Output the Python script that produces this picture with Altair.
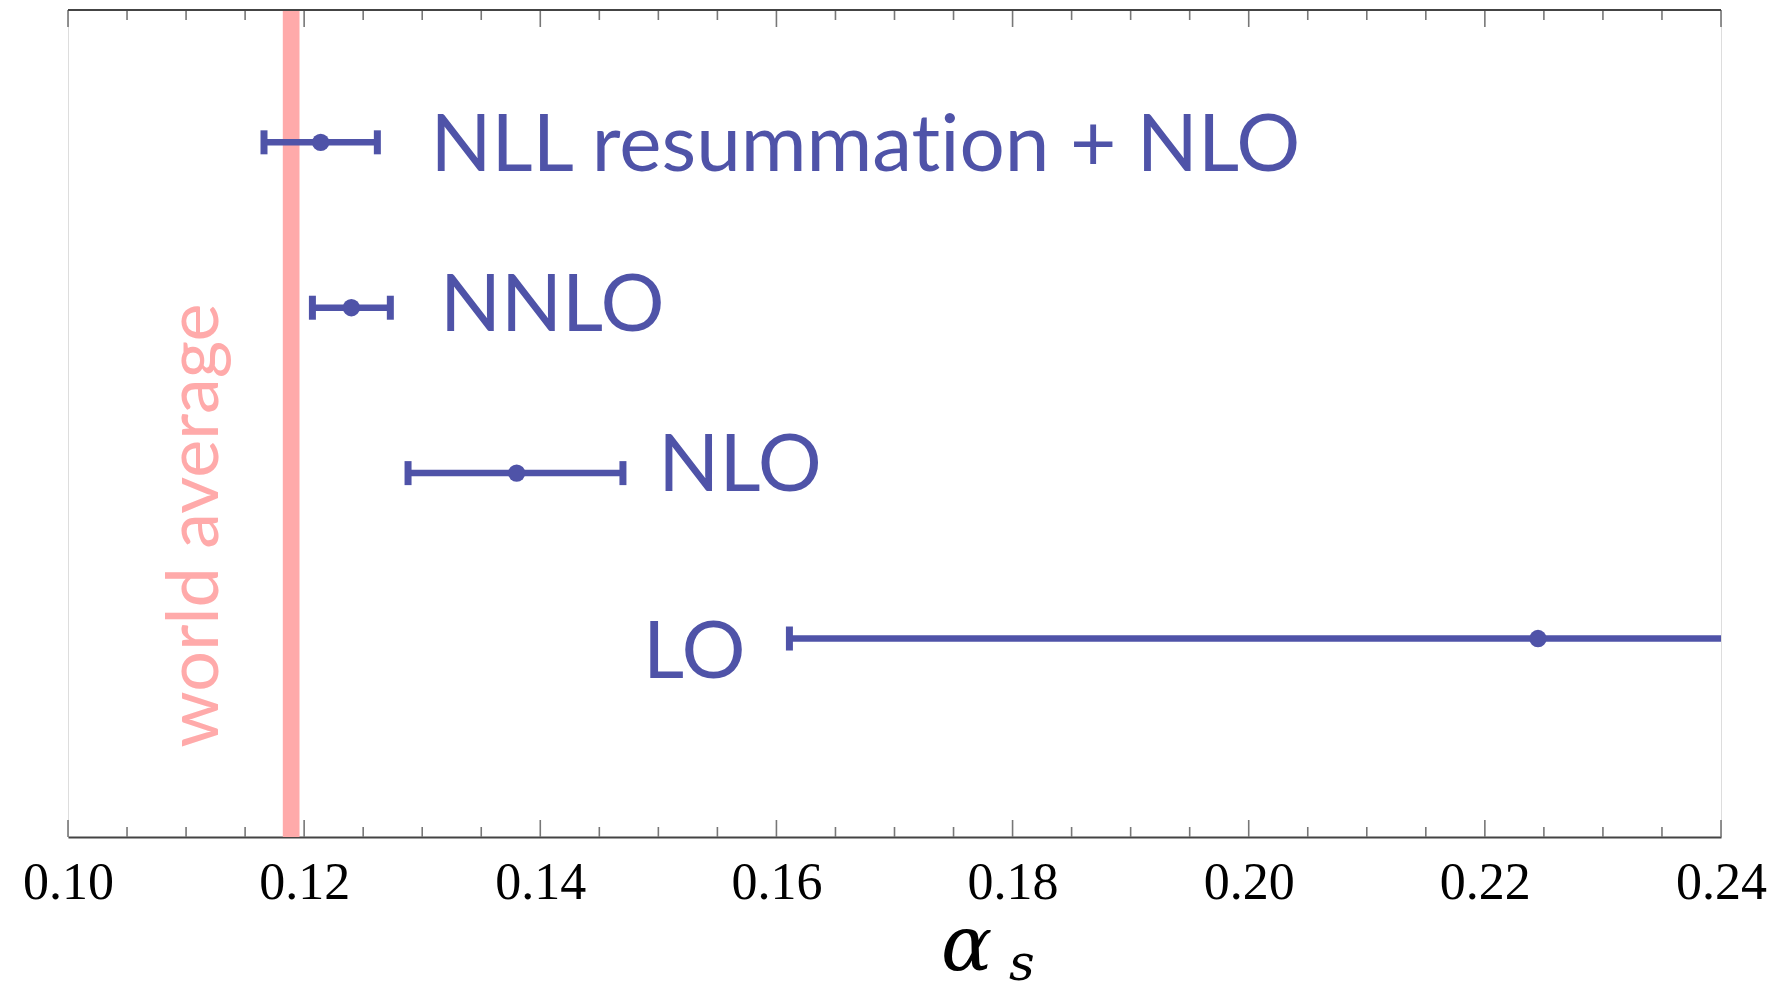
import altair as alt
import pandas as pd

# ---- data ----
labels = ["NLL resummation + NLO", "NNLO", "NLO", "LO"]
central = [0.1214, 0.1240, 0.1380, 0.2245]
lower = [0.1166, 0.1207, 0.1288, 0.1611]
upper = [0.1262, 0.1273, 0.1470, 0.2404]
y_pos = [4.2, 3.2, 2.2, 1.2]
label_x = [0.1307, 0.1315, 0.1500, 0.1487]
label_y = [4.196, 3.229, 2.264, 1.128]

world_avg = [0.1189]
world_label = ["world average"]
world_label_x = [0.1127]
world_label_y = [0.54]

major_ticks = [0.10, 0.12, 0.14, 0.16, 0.18, 0.20, 0.22, 0.24]
minor_ticks = [0.105, 0.11, 0.115, 0.125, 0.13, 0.135, 0.145, 0.15, 0.155,
               0.165, 0.17, 0.175, 0.185, 0.19, 0.195, 0.205, 0.21, 0.215,
               0.225, 0.23, 0.235]

BLUE = "#4F53A8"
PINK = "#FFAAAA"
W, H = 1653, 827

# zero-width non-joiner keeps the "ti" ligature from forming
display_labels = [s.replace("ti", "t\u200Ci") for s in labels]

df = pd.DataFrame({"label": display_labels, "c": central, "lo": lower, "hi": upper,
                   "y": y_pos, "lx": label_x, "ly": label_y})
caps = pd.DataFrame({"x": lower + upper, "y": y_pos + y_pos})
wa = pd.DataFrame({"x": world_avg})
wal = pd.DataFrame({"t": world_label, "x": world_label_x, "y": world_label_y})
maj = pd.DataFrame({"x": major_ticks})
mnr = pd.DataFrame({"x": minor_ticks})

xs = alt.Scale(domain=[0.10, 0.24], nice=False, zero=False)
ys = alt.Scale(domain=[0, 5], nice=False, zero=False)

xaxis = alt.Axis(values=major_ticks, format=".2f", labelFont="Liberation Serif",
                 labelFontSize=52, labelColor="#000", tickSize=0, labelPadding=20,
                 grid=False, domainColor="#444", domainWidth=2, labelFlush=False,
                 labelOverlap=False, title=None)


def X(field):
    return alt.X(field, scale=xs, axis=xaxis)


def Y(field):
    return alt.Y(field, scale=ys, axis=None)


# frame top line
top_line = alt.Chart(maj).mark_rule(color="#444", strokeWidth=2).encode(
    x=alt.value(0), x2=alt.value(W), y=alt.value(0))


def tick_layer(d, length):
    bot = alt.Chart(d).mark_rule(color="#777", strokeWidth=1.6).encode(
        x=X("x:Q"), y=alt.value(H), y2=alt.value(H - length))
    top = alt.Chart(d).mark_rule(color="#777", strokeWidth=1.6).encode(
        x=X("x:Q"), y=alt.value(0), y2=alt.value(length))
    return bot + top


ticks = tick_layer(maj, 17) + tick_layer(mnr, 10)

wa_line = alt.Chart(wa).mark_rule(color=PINK, strokeWidth=16.7).encode(x=X("x:Q"))

wa_text = alt.Chart(wal).mark_text(
    font="Lato", fontSize=72, color=PINK, angle=270, align="left",
    baseline="alphabetic").encode(x=X("x:Q"), y=Y("y:Q"), text="t:N")

bars = alt.Chart(df).mark_rule(color=BLUE, strokeWidth=6.5, clip=True).encode(
    x=X("lo:Q"), x2="hi:Q", y=Y("y:Q"))

cap_marks = alt.Chart(caps).mark_tick(color=BLUE, orient="vertical", size=24,
                                      thickness=7, opacity=1, clip=True).encode(
    x=X("x:Q"), y=Y("y:Q"))

dots = alt.Chart(df).mark_circle(color=BLUE, size=300, opacity=1).encode(
    x=X("c:Q"), y=Y("y:Q"))

texts = alt.Chart(df).mark_text(font="Lato", fontSize=80, color=BLUE,
                                align="left", baseline="alphabetic", dy=28).encode(
    x=X("lx:Q"), y=Y("ly:Q"), text="label:N")

alpha = alt.Chart(wa).mark_text(text="α", font="DejaVu Serif", fontStyle="italic",
                                fontSize=76, color="#000", align="left",
                                baseline="alphabetic").encode(
    x=alt.value(873), y=alt.value(960))
sub_s = alt.Chart(wa).mark_text(text="s", font="DejaVu Serif", fontStyle="italic",
                                fontSize=50, color="#000", align="left",
                                baseline="alphabetic").encode(
    x=alt.value(941), y=alt.value(970))

chart = alt.layer(
    wa_line, ticks, top_line, wa_text, bars, cap_marks, dots, texts, alpha, sub_s
).properties(
    width=W, height=H,
    autosize=alt.AutoSizeParams(type="none"),
    padding={"left": 68, "top": 10, "right": 53, "bottom": 149},
).configure_view(stroke="#888", strokeWidth=1.5).configure(background="white")

chart.save("out.html", embed_options={"renderer": "svg", "actions": False})
